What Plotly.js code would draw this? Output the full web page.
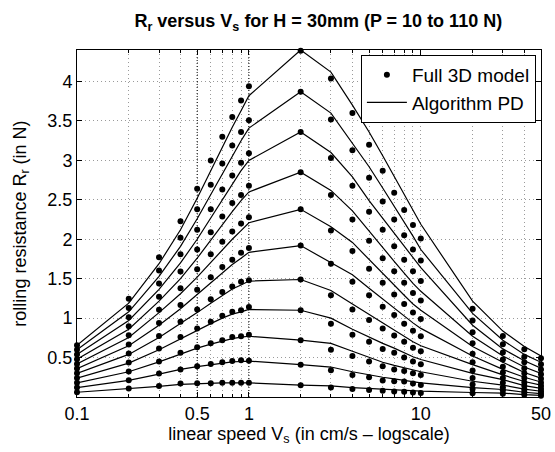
<!DOCTYPE html>
<html><head><meta charset="utf-8">
<script src="https://cdn.plot.ly/plotly-3.0.1.min.js"></script>
<style>html,body{margin:0;padding:0;background:#fff}#chart{width:555px;height:452px}</style>
</head><body><div id="chart"></div>
<script>
// linear speed Vs (cm/s)
const speeds = [0.1,0.2,0.3,0.4,0.5,0.6,0.7,0.8,0.9,1,2,3,4,5,6,7,8,9,10,20,30,40,50];
const loadsN = [10,20,30,40,50,60,70,80,90,100,110];

// Full 3D model (dots), rolling resistance Rr (N)
const model_P10  = [0.06,0.108,0.14,0.17,0.175,0.175,0.18,0.18,0.18,0.18,0.15,0.12,0.10,0.09,0.078,0.07,0.065,0.058,0.05,0.048,0.042,0.03,0.016];
const model_P20  = [0.12,0.213,0.297,0.35,0.39,0.42,0.44,0.457,0.465,0.46,0.41,0.34,0.28,0.25,0.21,0.20,0.196,0.17,0.153,0.10,0.085,0.06,0.04];
const model_P30  = [0.18,0.323,0.449,0.56,0.63,0.68,0.72,0.76,0.77,0.79,0.72,0.60,0.52,0.45,0.39,0.35,0.33,0.30,0.28,0.16,0.125,0.095,0.07];
const model_P40  = [0.24,0.437,0.614,0.76,0.87,0.955,1.03,1.08,1.10,1.14,1.10,0.93,0.79,0.70,0.61,0.56,0.50,0.45,0.415,0.24,0.18,0.14,0.10];
const model_P50  = [0.30,0.551,0.773,0.955,1.11,1.24,1.33,1.40,1.46,1.48,1.49,1.29,1.11,0.975,0.87,0.78,0.70,0.626,0.58,0.335,0.24,0.185,0.14];
const model_P60  = [0.36,0.665,0.938,1.165,1.36,1.52,1.65,1.74,1.83,1.89,1.92,1.69,1.46,1.29,1.145,1.04,0.93,0.84,0.77,0.44,0.31,0.24,0.18];
const model_P70  = [0.42,0.782,1.107,1.38,1.62,1.81,1.97,2.10,2.20,2.28,2.38,2.11,1.85,1.625,1.45,1.30,1.18,1.07,0.99,0.55,0.385,0.30,0.23];
const model_P80  = [0.48,0.896,1.271,1.59,1.87,2.09,2.29,2.46,2.56,2.68,2.85,2.56,2.25,1.98,1.76,1.595,1.45,1.32,1.225,0.68,0.475,0.365,0.29];
const model_P90  = [0.54,1.01,1.44,1.81,2.12,2.38,2.63,2.81,2.97,3.09,3.36,3.03,2.68,2.35,2.12,1.91,1.74,1.595,1.47,0.82,0.565,0.44,0.35];
const model_P100 = [0.60,1.128,1.604,2.02,2.38,2.69,2.96,3.19,3.36,3.51,3.87,3.52,3.13,2.78,2.48,2.25,2.05,1.87,1.73,0.97,0.67,0.51,0.415];
const model_P110 = [0.655,1.247,1.772,2.23,2.64,3.00,3.30,3.55,3.76,3.94,4.39,4.04,3.60,3.20,2.87,2.59,2.37,2.18,2.01,1.12,0.775,0.605,0.49];

// Algorithm PD (lines)
const algo_P10  = [0.06,0.105,0.135,0.16,0.17,0.175,0.178,0.18,0.18,0.18,0.15,0.14,0.12,0.11,0.10,0.09,0.085,0.08,0.075,0.057,0.05,0.03,0.02];
const algo_P20  = [0.12,0.21,0.29,0.35,0.385,0.41,0.43,0.445,0.45,0.455,0.41,0.38,0.32,0.28,0.25,0.23,0.21,0.195,0.18,0.12,0.095,0.06,0.044];
const algo_P30  = [0.18,0.32,0.445,0.545,0.62,0.67,0.71,0.74,0.76,0.77,0.72,0.68,0.58,0.50,0.44,0.40,0.37,0.34,0.32,0.20,0.15,0.10,0.073];
const algo_P40  = [0.24,0.43,0.60,0.74,0.85,0.93,1.00,1.05,1.08,1.11,1.10,1.00,0.86,0.76,0.68,0.62,0.56,0.51,0.475,0.30,0.22,0.145,0.11];
const algo_P50  = [0.30,0.54,0.755,0.93,1.07,1.19,1.29,1.37,1.42,1.47,1.49,1.35,1.18,1.05,0.94,0.85,0.77,0.70,0.65,0.41,0.28,0.196,0.15];
const algo_P60  = [0.36,0.65,0.91,1.12,1.30,1.45,1.58,1.68,1.76,1.835,1.92,1.70,1.55,1.38,1.24,1.13,1.03,0.94,0.87,0.52,0.35,0.25,0.19];
const algo_P70  = [0.42,0.755,1.07,1.31,1.52,1.71,1.87,2.00,2.11,2.21,2.38,2.16,1.96,1.74,1.56,1.41,1.29,1.18,1.10,0.64,0.44,0.31,0.24];
const algo_P80  = [0.48,0.86,1.215,1.50,1.76,1.99,2.19,2.35,2.49,2.60,2.85,2.62,2.36,2.10,1.89,1.72,1.57,1.44,1.34,0.77,0.52,0.38,0.30];
const algo_P90  = [0.54,0.97,1.365,1.70,2.00,2.27,2.51,2.71,2.87,3.00,3.36,3.10,2.79,2.49,2.27,2.08,1.91,1.77,1.64,0.91,0.61,0.46,0.365];
const algo_P100 = [0.60,1.08,1.53,1.91,2.26,2.57,2.84,3.06,3.25,3.41,3.87,3.60,3.22,2.92,2.65,2.42,2.23,2.04,1.87,1.06,0.72,0.54,0.44];
const algo_P110 = [0.655,1.19,1.69,2.12,2.52,2.87,3.17,3.42,3.63,3.82,4.40,4.12,3.70,3.36,3.06,2.80,2.58,2.38,2.19,1.215,0.836,0.64,0.52];

const xTickVals = [0.1,0.5,1,10,50];
const xTickText = ['0.1','0.5','1','10','50'];
const xMinorVals = [0.2,0.3,0.4,0.6,0.7,0.8,0.9,2,3,4,5,6,7,8,9,20,30,40];
const yTickVals = [0.5,1,1.5,2,2.5,3,3.5,4];
const yTickText = ['0.5','1','1.5','2','2.5','3','3.5','4'];
const darkGridX = [0.5,1];
const yRange = [0,4.4];

const modelSeries = [model_P10,model_P20,model_P30,model_P40,model_P50,model_P60,model_P70,model_P80,model_P90,model_P100,model_P110];
const algoSeries  = [algo_P10,algo_P20,algo_P30,algo_P40,algo_P50,algo_P60,algo_P70,algo_P80,algo_P90,algo_P100,algo_P110];

const FONT = 'Liberation Sans, Arial, Helvetica, sans-serif';
const traces = [];

darkGridX.forEach(v => {
  traces.push({x:[v,v], y:yRange, mode:'lines', type:'scatter', showlegend:false, hoverinfo:'skip',
    line:{color:'#000', width:1, dash:'1px,2px'}});
});

algoSeries.forEach((ys,i) => {
  traces.push({x:speeds, y:ys, type:'scatter', mode:'lines', name:'Algorithm PD',
    legendgroup:'algo', showlegend:i===0, legendrank:2,
    line:{color:'#000', width:1.2}});
});
modelSeries.forEach((ys,i) => {
  traces.push({x:speeds, y:ys, type:'scatter', mode:'markers', name:'Full 3D model',
    legendgroup:'model', showlegend:i===0, legendrank:1, cliponaxis:false,
    marker:{color:'#000', size:6}});
});

const layout = {
  width:555, height:452,
  margin:{l:77, r:14, t:50, b:55},
  paper_bgcolor:'#fff', plot_bgcolor:'#fff',
  font:{family:FONT, size:19, color:'#000'},
  title:{text:'<b>R<sub>r</sub> versus V<sub>s</sub> for H = 30mm (P = 10 to 110 N)</b>',
    font:{family:FONT, size:18, color:'#000'}, x:0.52, xref:'paper', y:1-21/452, yref:'container', yanchor:'middle'},
  xaxis:{type:'log', range:[Math.log10(0.1), Math.log10(50)],
    tickmode:'array', tickvals:xTickVals, ticktext:xTickText,
    ticks:'inside', ticklen:5, tickcolor:'#000', showline:true, linecolor:'#000', linewidth:1, mirror:'ticks',
    showgrid:true, gridcolor:'#9a9a9a', griddash:'1px,3px', gridwidth:1, zeroline:false,
    minor:{tickmode:'array', tickvals:xMinorVals, ticks:'inside', ticklen:3, tickcolor:'#000', showgrid:true, gridcolor:'#9a9a9a', griddash:'1px,3px', gridwidth:1},
    tickfont:{family:FONT, size:18},
    title:{text:'linear speed V<sub>s</sub> (in cm/s – logscale)', font:{family:FONT, size:18}, standoff:2}},
  yaxis:{range:yRange, tickmode:'array', tickvals:yTickVals, ticktext:yTickText,
    ticks:'inside', ticklen:5, tickcolor:'#000', showline:true, linecolor:'#000', linewidth:1, mirror:'ticks',
    showgrid:true, gridcolor:'#9a9a9a', griddash:'1px,3px', gridwidth:1, zeroline:false,
    tickfont:{family:FONT, size:18},
    title:{text:'rolling resistance R<sub>r</sub> (in N)', font:{family:FONT, size:18}, standoff:16}},
  showlegend:true,
  legend:{x:0.989, y:0.986, xanchor:'right', yanchor:'top', bgcolor:'#fff', bordercolor:'#000', borderwidth:1,
    font:{family:FONT, size:19}, traceorder:'normal', itemwidth:40, tracegroupgap:0}
};

Plotly.newPlot('chart', traces, layout, {displayModeBar:false, staticPlot:true});
</script></body></html>
